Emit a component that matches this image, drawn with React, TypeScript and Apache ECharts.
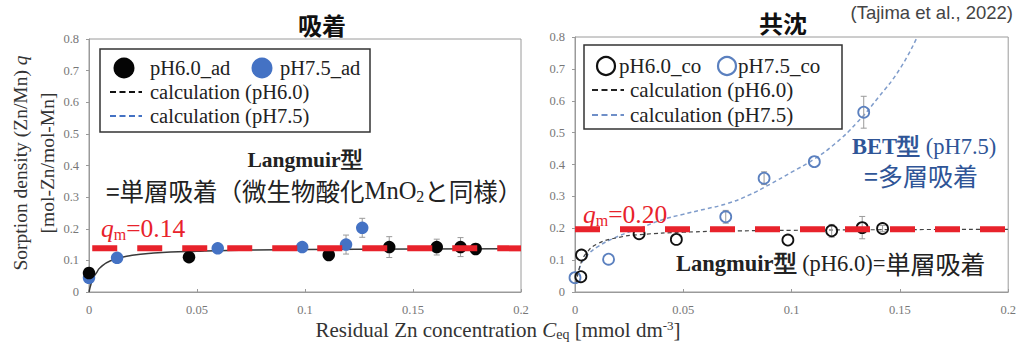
import React, { useEffect, useRef } from 'react';
import * as echarts from 'echarts';

// ---------- data ----------
// 吸着 (adsorption) panel
const adPH60X = [0, 0.0463, 0.111, 0.139, 0.161, 0.172, 0.179];
const adPH60Q = [0.06, 0.11, 0.117, 0.142, 0.142, 0.142, 0.136];
const adPH60E = [0, 0, 0, 0.033, 0.025, 0.03, 0];
const adPH75X = [0, 0.013, 0.0596, 0.0987, 0.119, 0.1265];
const adPH75Q = [0.045, 0.108, 0.138, 0.142, 0.15, 0.203];
const adPH75E = [0, 0, 0, 0, 0.03, 0.03];
const adCalcX = [0, 0.001, 0.002, 0.0036, 0.005, 0.01, 0.02, 0.03, 0.05, 0.075, 0.1, 0.15, 0.2];
const adCalcQ = [0, 0.027, 0.045, 0.062, 0.076, 0.099, 0.116, 0.123, 0.129, 0.133, 0.134, 0.136, 0.137];
const adQm = 0.138;

// 共沈 (coprecipitation) panel
const coPH60X = [0.0027, 0.003, 0.0296, 0.0468, 0.0983, 0.1185, 0.1326, 0.142];
const coPH60Q = [0.048, 0.116, 0.183, 0.165, 0.163, 0.192, 0.202, 0.199];
const coPH60E = [0, 0, 0, 0, 0, 0.02, 0.035, 0.01];
const coPH75X = [0, 0.0155, 0.0696, 0.0873, 0.1105, 0.1333];
const coPH75Q = [0.045, 0.103, 0.236, 0.357, 0.409, 0.564];
const coPH75E = [0, 0, 0.02, 0.02, 0, 0.05];
const coCalc60X = [0.0005, 0.001, 0.002, 0.003, 0.005, 0.01, 0.02, 0.03, 0.05, 0.075, 0.1, 0.15, 0.2];
const coCalc60Q = [0.026, 0.046, 0.075, 0.095, 0.12, 0.15, 0.171, 0.18, 0.1875, 0.1915, 0.1935, 0.1957, 0.1967];
const coCalc75X = [0.001, 0.003, 0.005, 0.01, 0.02, 0.03, 0.04, 0.05, 0.06, 0.07, 0.08, 0.09, 0.1, 0.11, 0.12, 0.13, 0.14, 0.15, 0.158];
const coCalc75Q = [0.05, 0.09, 0.11, 0.14, 0.175, 0.2, 0.226, 0.244, 0.26, 0.277, 0.303, 0.338, 0.376, 0.415, 0.465, 0.53, 0.61, 0.7, 0.8];
const coQm = 0.197;

const xMin = 0, xMax = 0.2, xStep = 0.05;
const yMin = 0, yMax = 0.8, yStep = 0.1;

// ---------- helpers ----------
const pairs = (xs: number[], ys: number[]) => xs.map((x, i) => [x, ys[i]]);
const triples = (xs: number[], ys: number[], es: number[]) => xs.map((x, i) => [x, ys[i], es[i]]);

const SERIF = 'Liberation Serif, Times New Roman, serif';
const CJK = 'Noto Sans CJK JP, sans-serif';
const SANS = 'Liberation Sans, Arial, sans-serif';
const RED = '#e8222b';
const BLUE_F = '#4472c4';
const BLUE_T = '#2f5597';

const errRender = (params: any, api: any) => {
  const x = api.value(0), y = api.value(1), e = api.value(2);
  if (!e) return { type: 'group', children: [] };
  const t = api.coord([x, y + e]);
  const b = api.coord([x, y - e]);
  const style = { stroke: '#9a9a9a', lineWidth: 1 };
  return {
    type: 'group',
    children: [
      { type: 'line', shape: { x1: t[0], y1: t[1], x2: b[0], y2: b[1] }, style },
      { type: 'line', shape: { x1: t[0] - 3, y1: t[1], x2: t[0] + 3, y2: t[1] }, style },
      { type: 'line', shape: { x1: b[0] - 3, y1: b[1], x2: b[0] + 3, y2: b[1] }, style },
    ],
  };
};

const mkX = (gi: number) => ({
  type: 'value', gridIndex: gi, min: xMin, max: xMax, interval: xStep,
  axisLine: { show: true, lineStyle: { color: '#9a9a9a', width: 1 } },
  axisTick: { show: true, inside: true, length: 3, lineStyle: { color: '#9a9a9a' } },
  axisLabel: { color: '#777', fontFamily: SERIF, fontSize: 12.5, margin: 11, formatter: (v: number) => String(+v.toFixed(2)) },
  splitLine: { show: false },
});
const mkY = (gi: number) => ({
  type: 'value', gridIndex: gi, min: yMin, max: yMax, interval: yStep,
  axisLine: { show: true, lineStyle: { color: '#9a9a9a', width: 1 } },
  axisTick: { show: true, length: 3, lineStyle: { color: '#9a9a9a' } },
  axisLabel: { color: '#777', fontFamily: SERIF, fontSize: 12.5, margin: 10, formatter: (v: number) => String(+v.toFixed(1)) },
  splitLine: { show: false },
});

const legendBox = (x: number, y: number, w: number, h: number) => ({
  type: 'rect', shape: { x, y, width: w, height: h },
  style: { fill: '#fff', stroke: '#333', lineWidth: 1.5 }, z: 50,
});
const legText = (x: number, y: number, text: string, size: number) => ({
  type: 'text', x, y, z: 51,
  style: { text, fontFamily: SERIF, fontSize: size, fill: '#222', textAlign: 'left', textVerticalAlign: 'middle', align: 'left', verticalAlign: 'middle' },
});
const legDash = (x: number, y: number, color: string) => ({
  type: 'line', z: 51, shape: { x1: x, y1: y, x2: x + 32, y2: y },
  style: { stroke: color, lineWidth: 2.2, lineDash: [6, 3.5] },
});
const ctext = (x: number, y: number, text: string, family: string, size: number, color: string, weight = 'normal', align = 'center') => ({
  type: 'text', x, y, z: 60,
  style: { text, fontFamily: family, fontSize: size, fontWeight: weight, fill: color, textAlign: align, textVerticalAlign: 'middle', align, verticalAlign: 'middle' },
});

export default function App() {
  const ref = useRef<HTMLDivElement>(null);
  useEffect(() => {
    if (!ref.current) return;
    const chart = echarts.init(ref.current, undefined, { renderer: 'svg' });
    const qmRich = {
      i: { fontFamily: SERIF, fontSize: 25.5, fontStyle: 'italic', fill: RED, color: RED },
      a: { fontFamily: SERIF, fontSize: 25.5, fill: RED, color: RED },
      sub: { fontFamily: SERIF, fontSize: 16, fill: RED, color: RED, verticalAlign: 'bottom', padding: [13, 0, 0, 0] },
    };
    const option: any = {
      animation: false,
      backgroundColor: '#fff',
      grid: [
        { left: 89, top: 39, width: 432, height: 253, show: true, borderColor: '#9a9a9a', borderWidth: 1, backgroundColor: 'transparent' },
        { left: 575, top: 37, width: 440, height: 255, show: true, borderColor: '#9a9a9a', borderWidth: 1, backgroundColor: 'transparent' },
      ],
      xAxis: [mkX(0), mkX(1)],
      yAxis: [mkY(0), mkY(1)],
      series: [
        // left panel
        { type: 'line', xAxisIndex: 0, yAxisIndex: 0, data: pairs(adCalcX, adCalcQ), smooth: true, showSymbol: false, symbol: 'none', lineStyle: { color: '#3a3a3a', width: 1.5 }, z: 2 },
        { type: 'custom', xAxisIndex: 0, yAxisIndex: 0, data: triples(adPH60X, adPH60Q, adPH60E), renderItem: errRender, z: 3 },
        { type: 'custom', xAxisIndex: 0, yAxisIndex: 0, data: triples(adPH75X, adPH75Q, adPH75E), renderItem: errRender, z: 3 },
        { type: 'scatter', xAxisIndex: 0, yAxisIndex: 0, data: pairs(adPH75X, adPH75Q), symbolSize: 12.5, itemStyle: { color: BLUE_F, opacity: 1 }, z: 4 },
        { type: 'scatter', xAxisIndex: 0, yAxisIndex: 0, data: pairs(adPH60X, adPH60Q), symbolSize: 12.5, itemStyle: { color: '#050505', opacity: 1 }, z: 4 },
        { type: 'line', xAxisIndex: 0, yAxisIndex: 0, data: [[0.0015, adQm], [xMax, adQm]], showSymbol: false, symbol: 'none', lineStyle: { color: RED, width: 6, type: [25, 20] }, z: 6 },
        // right panel
        { type: 'line', xAxisIndex: 1, yAxisIndex: 1, data: pairs(coCalc75X, coCalc75Q), smooth: true, showSymbol: false, symbol: 'none', lineStyle: { color: '#7f9ccb', width: 1.5, type: [4, 3] }, z: 2 },
        { type: 'line', xAxisIndex: 1, yAxisIndex: 1, data: pairs(coCalc60X, coCalc60Q), smooth: true, showSymbol: false, symbol: 'none', lineStyle: { color: '#444', width: 1.2, type: [4, 3] }, z: 2 },
        { type: 'custom', xAxisIndex: 1, yAxisIndex: 1, data: triples(coPH60X, coPH60Q, coPH60E), renderItem: errRender, z: 3 },
        { type: 'custom', xAxisIndex: 1, yAxisIndex: 1, data: triples(coPH75X, coPH75Q, coPH75E), renderItem: errRender, z: 3 },
        { type: 'scatter', xAxisIndex: 1, yAxisIndex: 1, data: pairs(coPH75X, coPH75Q), symbolSize: 11, itemStyle: { color: 'rgba(255,255,255,0)', borderColor: '#5b80bf', borderWidth: 1.8, opacity: 1 }, z: 4 },
        { type: 'scatter', xAxisIndex: 1, yAxisIndex: 1, data: pairs(coPH60X, coPH60Q), symbolSize: 11, itemStyle: { color: 'rgba(255,255,255,0)', borderColor: '#111', borderWidth: 1.8, opacity: 1 }, z: 4 },
        { type: 'line', xAxisIndex: 1, yAxisIndex: 1, data: [[0, coQm], [0.2, coQm]], showSymbol: false, symbol: 'none', lineStyle: { color: RED, width: 6, type: [25, 20] }, z: 6 },
      ],
      graphic: [
        // titles
        ctext(322, 24, '吸着', CJK, 24, '#111', 'bold'),
        ctext(783, 22, '共沈', CJK, 24, '#111', 'bold'),
        ctext(1013, 12, '(Tajima et al., 2022)', SANS, 18.5, '#444', 'normal', 'right'),
        // y axis title
        {
          type: 'text', x: 20, y: 163, rotation: Math.PI / 2,
          style: {
            text: '{a|Sorption density (Zn/Mn) }{i|q}', textAlign: 'center', textVerticalAlign: 'middle', align: 'center', verticalAlign: 'middle',
            rich: { a: { fontFamily: SERIF, fontSize: 19.5, fill: '#333', color: '#333' }, i: { fontFamily: SERIF, fontSize: 19.5, fontStyle: 'italic', fill: '#333', color: '#333' } },
          },
        },
        {
          type: 'text', x: 47, y: 163, rotation: Math.PI / 2,
          style: { text: '[mol-Zn/mol-Mn]', fontFamily: SERIF, fontSize: 19.5, fill: '#333', textAlign: 'center', textVerticalAlign: 'middle', align: 'center', verticalAlign: 'middle' },
        },
        // x axis title
        {
          type: 'text', x: 498, y: 330,
          style: {
            text: '{a|Residual Zn concentration }{i|C}{sub|eq}{a| [mmol dm}{sup|-3}{a|]}', textAlign: 'center', textVerticalAlign: 'middle', align: 'center', verticalAlign: 'middle',
            rich: {
              a: { fontFamily: SERIF, fontSize: 21, fill: '#333', color: '#333' },
              i: { fontFamily: SERIF, fontSize: 21, fontStyle: 'italic', fill: '#333', color: '#333' },
              sub: { fontFamily: SERIF, fontSize: 14, fill: '#333', color: '#333', verticalAlign: 'bottom', padding: [9, 0, 0, 0] },
              sup: { fontFamily: SERIF, fontSize: 13, fill: '#333', color: '#333', verticalAlign: 'top', padding: [0, 0, 9, 0] },
            },
          },
        },
        // left legend
        legendBox(100, 49, 270, 83),
        { type: 'circle', z: 51, shape: { cx: 124, cy: 68, r: 10.5 }, style: { fill: '#050505' } },
        legText(150, 68, 'pH6.0_ad', 20.5),
        { type: 'circle', z: 51, shape: { cx: 262, cy: 68, r: 10.5 }, style: { fill: BLUE_F } },
        legText(280, 68, 'pH7.5_ad', 20.5),
        legDash(110, 92, '#111'),
        legText(150, 92, 'calculation (pH6.0)', 20.5),
        legDash(110, 116, BLUE_F),
        legText(150, 116, 'calculation (pH7.5)', 20.5),
        // right legend
        legendBox(584, 45, 258, 84),
        { type: 'circle', z: 51, shape: { cx: 606, cy: 66, r: 9 }, style: { fill: 'rgba(255,255,255,0)', stroke: '#111', lineWidth: 2.2 } },
        legText(619, 66, 'pH6.0_co', 21),
        { type: 'circle', z: 51, shape: { cx: 727, cy: 66, r: 9 }, style: { fill: 'rgba(255,255,255,0)', stroke: '#5b80bf', lineWidth: 2.2 } },
        legText(738, 66, 'pH7.5_co', 21),
        legDash(592, 90, '#222'),
        legText(630, 90, 'calculation (pH6.0)', 21),
        legDash(592, 115, '#6f8fc8'),
        legText(630, 115, 'calculation (pH7.5)', 21),
        // left annotations
        ctext(305, 160, 'Langmuir型', SERIF, 21.5, '#222', 'bold'),
        {
          type: 'text', x: 106, y: 190, z: 60,
          style: {
            text: '{c|=単層吸着（微生物酸化}{s|MnO}{sub|2}{c|と同様）}', textAlign: 'left', textVerticalAlign: 'middle', align: 'left', verticalAlign: 'middle',
            rich: {
              c: { fontFamily: CJK, fontSize: 24.5, fill: '#222', color: '#222' },
              s: { fontFamily: SERIF, fontSize: 24.5, fill: '#222', color: '#222' },
              sub: { fontFamily: SERIF, fontSize: 16, fill: '#222', color: '#222', verticalAlign: 'bottom', padding: [13, 0, 0, 0] },
            },
          },
        },
        { type: 'text', x: 101, y: 228, z: 60, style: { text: '{i|q}{sub|m}{a|=0.14}', textAlign: 'left', textVerticalAlign: 'middle', align: 'left', verticalAlign: 'middle', rich: qmRich } },
        // right annotations
        { type: 'text', x: 583, y: 214, z: 60, style: { text: '{i|q}{sub|m}{a|=0.20}', textAlign: 'left', textVerticalAlign: 'middle', align: 'left', verticalAlign: 'middle', rich: qmRich } },
        {
          type: 'text', x: 852, y: 146, z: 60,
          style: {
            text: '{b|BET型}{n| (pH7.5)}', textAlign: 'left', textVerticalAlign: 'middle', align: 'left', verticalAlign: 'middle',
            rich: {
              b: { fontFamily: SERIF, fontSize: 22.5, fontWeight: 'bold', fill: BLUE_T, color: BLUE_T },
              n: { fontFamily: SERIF, fontSize: 22.5, fill: BLUE_T, color: BLUE_T },
            },
          },
        },
        ctext(921, 175, '=多層吸着', CJK, 25, BLUE_T),
        {
          type: 'text', x: 676, y: 263, z: 60,
          style: {
            text: '{b|Langmuir型}{n| (pH6.0)=}{c|単層吸着}', textAlign: 'left', textVerticalAlign: 'middle', align: 'left', verticalAlign: 'middle',
            rich: {
              b: { fontFamily: SERIF, fontSize: 22.5, fontWeight: 'bold', fill: '#222', color: '#222' },
              n: { fontFamily: SERIF, fontSize: 22.5, fill: '#222', color: '#222' },
              c: { fontFamily: CJK, fontSize: 25, fill: '#222', color: '#222' },
            },
          },
        },
      ],
    };
    chart.setOption(option);
    return () => chart.dispose();
  }, []);
  return <div ref={ref} style={{ position: 'fixed', left: 0, top: 0, width: 1019, height: 345, background: '#fff' }} />;
}
